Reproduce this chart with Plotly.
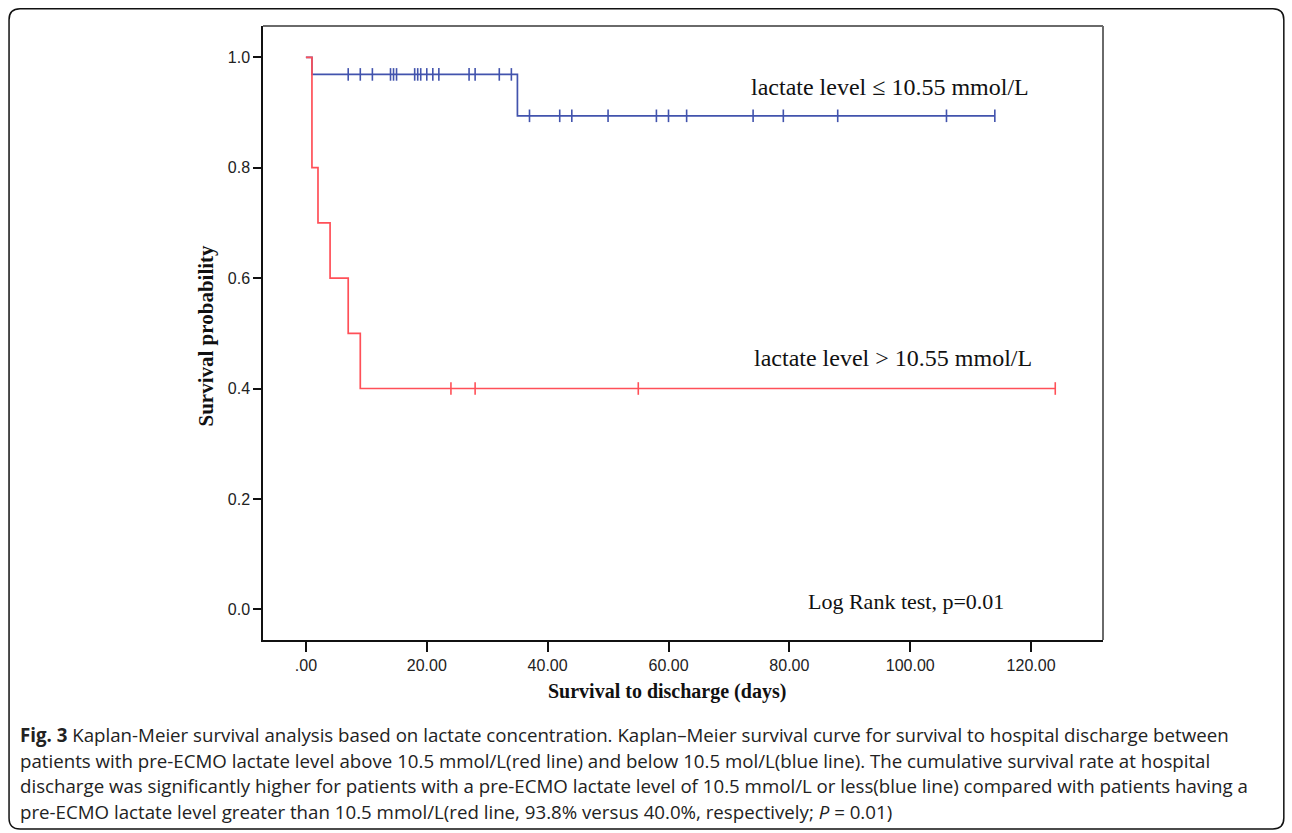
import plotly.graph_objects as go

# ---------------- data ----------------
# red group: lactate level > 10.55 mmol/L
red_event_days = [1, 2, 4, 7, 9]
red_surv_after = [0.8, 0.7, 0.6, 0.5, 0.4]
red_end_day = 124
red_censor_days = [24, 28, 55, 124]

# blue group: lactate level <= 10.55 mmol/L
blue_event_days = [1, 35]
blue_surv_after = [0.969, 0.894]
blue_end_day = 114
blue_censor_days = [7, 9, 11, 14, 14.5, 15, 18, 18.5, 19, 20, 21, 22, 27, 28,
                    32, 34, 37, 42, 44, 50, 58, 60, 63, 74, 79, 88, 106, 114]

x_tickvals = [0, 20, 40, 60, 80, 100, 120]
x_ticktext = [".00", "20.00", "40.00", "60.00", "80.00", "100.00", "120.00"]
y_tickvals = [0.0, 0.2, 0.4, 0.6, 0.8, 1.0]
y_ticktext = ["0.0", "0.2", "0.4", "0.6", "0.8", "1.0"]

caption_lines = [
    "<b>Fig. 3</b> Kaplan-Meier survival analysis based on lactate concentration. Kaplan–Meier survival curve for survival to hospital discharge between",
    "patients with pre-ECMO lactate level above 10.5 mmol/L(red line) and below 10.5 mol/L(blue line). The cumulative survival rate at hospital",
    "discharge was significantly higher for patients with a pre-ECMO lactate level of 10.5 mmol/L or less(blue line) compared with patients having a",
    "pre-ECMO lactate level greater than 10.5 mmol/L(red line, 93.8% versus 40.0%, respectively; <i>P</i> = 0.01)",
]

RED = "#ff5058"
BLUE = "#4253ad"

# ---------------- layout geometry ----------------
W, H = 1292, 833
PL, PR, PT, PB = 262.7, 1103.5, 25.7, 640.0


def px2x(px):
    return (px - PL) / (PR - PL)


def py2y(py):
    return (PB - py) / (PB - PT)


def step_points(event_days, surv_after, end_day):
    xs = [0] + list(event_days) + [end_day]
    ys = [1.0] + list(surv_after) + [surv_after[-1]]
    return xs, ys


def surv_at(t, event_days, surv_after):
    s = 1.0
    for d, v in zip(event_days, surv_after):
        if d <= t:
            s = v
    return s


fig = go.Figure()

for ev, sv, end, cens, col in [
    (blue_event_days, blue_surv_after, blue_end_day, blue_censor_days, BLUE),
    (red_event_days, red_surv_after, red_end_day, red_censor_days, RED),
]:
    xs, ys = step_points(ev, sv, end)
    fig.add_trace(go.Scatter(x=xs, y=ys, mode="lines", line=dict(color=col, width=1.7, shape="hv"),
                             showlegend=False, hoverinfo="skip"))
    fig.add_trace(go.Scatter(x=cens, y=[surv_at(c, ev, sv) for c in cens], mode="markers",
                             marker=dict(symbol="line-ns", size=9, line=dict(color=col, width=1.6)),
                             showlegend=False, hoverinfo="skip"))

serif = "Liberation Serif, Times New Roman, serif"
sans = "Liberation Sans, Arial, sans-serif"

fig.update_layout(
    width=W, height=H,
    margin=dict(l=PL, r=W - PR, t=PT, b=H - PB),
    paper_bgcolor="white", plot_bgcolor="white",
    xaxis=dict(range=[-7.1, 131.9], tickvals=x_tickvals, ticktext=x_ticktext,
               showgrid=False, zeroline=False, showline=True, linecolor="#111", linewidth=1.5,
               ticks="outside", ticklen=10, tickwidth=1.5, tickcolor="#111",
               tickfont=dict(family=sans, size=16, color="#222")),
    yaxis=dict(range=[-0.0556, 1.0567], tickvals=y_tickvals, ticktext=y_ticktext,
               showgrid=False, zeroline=False, showline=True, linecolor="#111", linewidth=1.5,
               ticks="outside", ticklen=8, tickwidth=1.5, tickcolor="#111",
               tickfont=dict(family=sans, size=16, color="#222")),
)

# gray top/right frame
fig.add_shape(type="line", xref="paper", yref="paper", x0=0, x1=1, y0=1, y1=1,
              line=dict(color="#6a6a6a", width=2))
fig.add_shape(type="line", xref="paper", yref="paper", x0=1, x1=1, y0=0, y1=1,
              line=dict(color="#6a6a6a", width=2))

# outer rounded border
bx0, bx1, by0, by1 = px2x(8.5), px2x(1284.5), py2y(829), py2y(8.5)
rx, ry = 11 / (PR - PL), 11 / (PB - PT)
path = (f"M {bx0 + rx} {by1} L {bx1 - rx} {by1} Q {bx1} {by1} {bx1} {by1 - ry} "
        f"L {bx1} {by0 + ry} Q {bx1} {by0} {bx1 - rx} {by0} "
        f"L {bx0 + rx} {by0} Q {bx0} {by0} {bx0} {by0 + ry} "
        f"L {bx0} {by1 - ry} Q {bx0} {by1} {bx0 + rx} {by1} Z")
fig.add_shape(type="path", xref="paper", yref="paper", path=path,
              line=dict(color="#111", width=1.5))

# in-plot labels
fig.add_annotation(x=px2x(749), y=py2y(87), xref="paper", yref="paper", xanchor="left", yanchor="middle",
                   text="lactate level ≤ 10.55 mmol/L", showarrow=False,
                   font=dict(family=serif, size=24, color="#111"))
fig.add_annotation(x=px2x(752), y=py2y(358), xref="paper", yref="paper", xanchor="left", yanchor="middle",
                   text="lactate level > 10.55 mmol/L", showarrow=False,
                   font=dict(family=serif, size=24, color="#111"))
fig.add_annotation(x=px2x(806), y=py2y(601), xref="paper", yref="paper", xanchor="left", yanchor="middle",
                   text="Log Rank test, p=0.01", showarrow=False,
                   font=dict(family=serif, size=22, color="#111"))

# axis titles
fig.add_annotation(x=px2x(667), y=py2y(692), xref="paper", yref="paper", xanchor="center", yanchor="middle",
                   text="<b>Survival to discharge (days)</b>", showarrow=False,
                   font=dict(family=serif, size=20, color="#111"))
fig.add_annotation(x=px2x(206), y=py2y(335), xref="paper", yref="paper", xanchor="center", yanchor="middle",
                   text="<b>Survival probability</b>", textangle=-90, showarrow=False,
                   font=dict(family=serif, size=21, color="#111"))

# caption
for i, line in enumerate(caption_lines):
    fig.add_annotation(x=px2x(17), y=py2y(735 + 25.4 * i), xref="paper", yref="paper",
                       xanchor="left", yanchor="middle", text=line, showarrow=False,
                       font=dict(family="Open Sans, sans-serif", size=18.7, color="#222"))

fig.write_html("out.html", config={"displayModeBar": False},
               post_script="document.body.style.margin='0';")
